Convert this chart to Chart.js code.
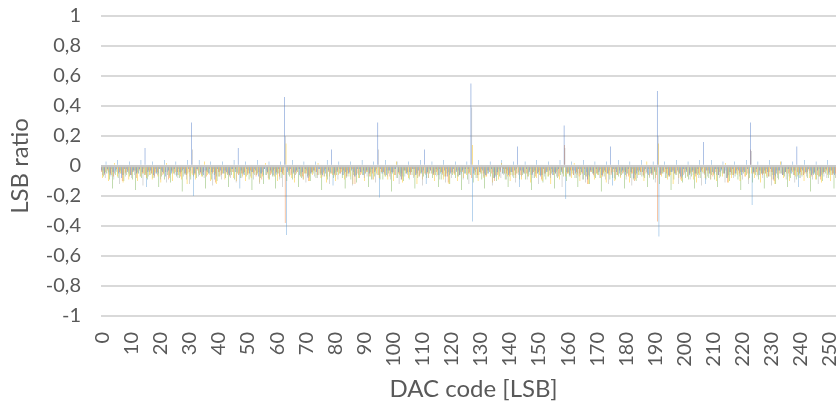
<!DOCTYPE html>
<html>
<head>
<meta charset="utf-8">
<script src="https://cdn.jsdelivr.net/npm/chart.js@4/dist/chart.umd.min.js"></script>
<style>
  html, body { margin: 0; padding: 0; background: #fff; overflow: hidden; }
  #wrap { position: absolute; left: 0; top: 0; width: 856px; height: 406px; }
</style>
</head>
<body>
<div id="wrap"><canvas id="dnl"></canvas></div>
<script>
// DAC codes 0..255
const codes = Array.from({ length: 256 }, (_, i) => String(i));

const yTicks = [-1, -0.8, -0.6, -0.4, -0.2, 0, 0.2, 0.4, 0.6, 0.8, 1];

// measured step error per code, one array per run
const run1 = [
  -0.03,-0.05,-0.02,-0.06,-0.04,-0.03,-0.05,-0.08,-0.02,-0.04,-0.06,-0.03,-0.05,-0.02,-0.04,0.12,
  -0.04,-0.03,-0.06,-0.05,-0.02,-0.04,-0.07,-0.03,-0.05,-0.02,-0.06,-0.04,-0.03,-0.05,-0.02,0.29,
  -0.05,-0.02,-0.04,-0.06,-0.03,-0.05,-0.04,-0.09,-0.02,-0.03,-0.05,-0.04,-0.06,-0.02,-0.04,0.12,
  -0.03,-0.06,-0.02,-0.05,-0.04,-0.03,-0.07,-0.05,-0.02,-0.04,-0.03,-0.06,-0.05,-0.02,-0.04,0.46,
  -0.04,-0.02,-0.05,-0.03,-0.06,-0.04,-0.02,-0.08,-0.05,-0.03,-0.04,-0.02,-0.06,-0.05,-0.03,0.11,
  -0.05,-0.03,-0.02,-0.06,-0.04,-0.05,-0.03,-0.07,-0.02,-0.04,-0.06,-0.03,-0.05,-0.02,-0.04,0.29,
  -0.02,-0.04,-0.06,-0.03,-0.05,-0.02,-0.04,-0.09,-0.03,-0.05,-0.04,-0.02,-0.06,-0.03,-0.05,0.11,
  -0.04,-0.03,-0.05,-0.02,-0.06,-0.04,-0.03,-0.07,-0.05,-0.02,-0.04,-0.06,-0.03,-0.05,-0.02,0.55,
  -0.05,-0.02,-0.04,-0.03,-0.06,-0.05,-0.02,-0.08,-0.04,-0.03,-0.05,-0.02,-0.06,-0.04,-0.03,0.13,
  -0.03,-0.05,-0.02,-0.04,-0.06,-0.03,-0.05,-0.07,-0.02,-0.04,-0.03,-0.06,-0.05,-0.02,-0.04,0.27,
  -0.04,-0.06,-0.03,-0.05,-0.02,-0.04,-0.06,-0.09,-0.03,-0.05,-0.02,-0.04,-0.06,-0.03,-0.05,0.13,
  -0.02,-0.04,-0.05,-0.03,-0.06,-0.02,-0.04,-0.08,-0.05,-0.03,-0.04,-0.02,-0.06,-0.05,-0.03,0.50,
  -0.05,-0.03,-0.02,-0.06,-0.04,-0.05,-0.03,-0.07,-0.02,-0.04,-0.06,-0.03,-0.05,-0.02,-0.04,0.16,
  -0.03,-0.05,-0.04,-0.02,-0.06,-0.03,-0.05,-0.08,-0.04,-0.02,-0.05,-0.03,-0.06,-0.04,-0.02,0.29,
  -0.04,-0.02,-0.06,-0.05,-0.03,-0.04,-0.02,-0.09,-0.05,-0.03,-0.06,-0.04,-0.02,-0.05,-0.03,0.13,
  -0.05,-0.03,-0.04,-0.02,-0.06,-0.05,-0.03,-0.07,-0.04,-0.02,-0.05,-0.03,-0.06,-0.04,-0.02,-0.03
];

const run2 = [
  -0.04,-0.06,-0.03,-0.05,-0.07,-0.02,-0.04,-0.10,-0.05,-0.03,-0.06,-0.04,-0.08,-0.03,-0.05,-0.06,
  -0.03,-0.05,-0.07,-0.04,-0.02,-0.06,-0.04,-0.09,-0.03,-0.05,-0.04,-0.07,-0.02,-0.06,-0.04,-0.05,
  -0.06,-0.03,-0.05,-0.04,-0.07,-0.02,-0.05,-0.11,-0.04,-0.06,-0.03,-0.05,-0.07,-0.04,-0.02,-0.06,
  -0.05,-0.04,-0.06,-0.03,-0.05,-0.07,-0.04,-0.09,-0.02,-0.05,-0.06,-0.03,-0.04,-0.07,-0.05,-0.38,
  -0.03,-0.06,-0.04,-0.05,-0.02,-0.07,-0.05,-0.10,-0.04,-0.03,-0.06,-0.05,-0.07,-0.02,-0.04,-0.05,
  -0.06,-0.04,-0.05,-0.03,-0.07,-0.04,-0.02,-0.12,-0.05,-0.06,-0.03,-0.04,-0.07,-0.05,-0.03,-0.06,
  -0.04,-0.05,-0.03,-0.07,-0.04,-0.06,-0.05,-0.09,-0.03,-0.04,-0.06,-0.02,-0.05,-0.07,-0.04,-0.05,
  -0.05,-0.03,-0.06,-0.04,-0.02,-0.05,-0.07,-0.11,-0.04,-0.05,-0.03,-0.06,-0.04,-0.02,-0.05,-0.08,
  -0.03,-0.06,-0.04,-0.05,-0.07,-0.03,-0.05,-0.10,-0.06,-0.04,-0.02,-0.05,-0.07,-0.04,-0.06,-0.05,
  -0.06,-0.04,-0.05,-0.03,-0.05,-0.07,-0.04,-0.09,-0.05,-0.03,-0.06,-0.04,-0.05,-0.07,-0.03,0.14,
  -0.05,-0.03,-0.06,-0.04,-0.07,-0.05,-0.02,-0.12,-0.04,-0.06,-0.05,-0.03,-0.07,-0.04,-0.05,-0.06,
  -0.04,-0.06,-0.03,-0.05,-0.04,-0.07,-0.05,-0.10,-0.03,-0.04,-0.06,-0.05,-0.02,-0.06,-0.04,-0.37,
  -0.06,-0.04,-0.05,-0.07,-0.03,-0.05,-0.04,-0.09,-0.06,-0.03,-0.05,-0.04,-0.07,-0.05,-0.03,-0.05,
  -0.03,-0.05,-0.07,-0.04,-0.06,-0.02,-0.05,-0.11,-0.04,-0.06,-0.03,-0.05,-0.04,-0.07,-0.05,0.11,
  -0.05,-0.04,-0.03,-0.06,-0.05,-0.07,-0.04,-0.10,-0.03,-0.05,-0.06,-0.04,-0.05,-0.03,-0.06,-0.04,
  -0.04,-0.06,-0.05,-0.03,-0.07,-0.04,-0.06,-0.09,-0.05,-0.03,-0.04,-0.06,-0.05,-0.07,-0.04,-0.05
];

const run3 = [
  -0.06,-0.08,-0.05,-0.07,-0.09,-0.04,-0.12,-0.06,-0.07,-0.05,-0.08,-0.06,-0.04,-0.07,-0.13,-0.05,
  -0.07,-0.05,-0.08,-0.06,-0.09,-0.05,-0.11,-0.07,-0.04,-0.06,-0.08,-0.05,-0.07,-0.09,-0.12,0.11,
  -0.05,-0.07,-0.06,-0.08,-0.04,-0.06,-0.13,-0.05,-0.07,-0.09,-0.05,-0.06,-0.08,-0.04,-0.11,-0.06,
  -0.08,-0.06,-0.05,-0.07,-0.09,-0.06,-0.12,-0.04,-0.06,-0.08,-0.05,-0.07,-0.06,-0.09,-0.14,0.20,
  -0.06,-0.05,-0.08,-0.04,-0.07,-0.09,-0.11,-0.06,-0.05,-0.07,-0.08,-0.06,-0.04,-0.07,-0.12,-0.05,
  -0.07,-0.09,-0.05,-0.06,-0.08,-0.05,-0.13,-0.07,-0.06,-0.04,-0.08,-0.07,-0.05,-0.09,-0.11,0.11,
  -0.05,-0.06,-0.07,-0.09,-0.04,-0.08,-0.12,-0.05,-0.07,-0.06,-0.05,-0.08,-0.06,-0.07,-0.13,-0.06,
  -0.08,-0.05,-0.06,-0.07,-0.09,-0.06,-0.11,-0.04,-0.08,-0.05,-0.07,-0.06,-0.09,-0.05,-0.12,0.39,
  -0.06,-0.08,-0.05,-0.07,-0.06,-0.04,-0.13,-0.07,-0.05,-0.08,-0.06,-0.09,-0.05,-0.07,-0.11,-0.06,
  -0.07,-0.05,-0.09,-0.06,-0.08,-0.05,-0.12,-0.06,-0.07,-0.04,-0.08,-0.06,-0.07,-0.05,-0.14,0.12,
  -0.05,-0.07,-0.06,-0.08,-0.05,-0.09,-0.11,-0.06,-0.04,-0.07,-0.05,-0.08,-0.06,-0.09,-0.12,-0.05,
  -0.08,-0.06,-0.07,-0.05,-0.09,-0.06,-0.13,-0.05,-0.08,-0.06,-0.07,-0.04,-0.08,-0.06,-0.11,0.20,
  -0.06,-0.05,-0.08,-0.07,-0.04,-0.06,-0.12,-0.08,-0.05,-0.07,-0.09,-0.06,-0.05,-0.08,-0.13,-0.06,
  -0.07,-0.09,-0.05,-0.06,-0.08,-0.05,-0.11,-0.07,-0.06,-0.08,-0.05,-0.07,-0.09,-0.04,-0.12,0.10,
  -0.05,-0.07,-0.06,-0.08,-0.05,-0.07,-0.13,-0.06,-0.08,-0.05,-0.06,-0.09,-0.07,-0.05,-0.11,-0.07,
  -0.08,-0.06,-0.07,-0.05,-0.09,-0.06,-0.12,-0.05,-0.07,-0.08,-0.06,-0.05,-0.08,-0.07,-0.13,-0.06
];

const run4 = [
  -0.08,-0.04,-0.10,-0.06,0.02,-0.07,-0.05,-0.11,-0.04,-0.09,-0.06,-0.03,-0.10,-0.07,-0.05,-0.08,
  -0.06,-0.09,-0.04,-0.07,-0.11,-0.05,0.02,-0.08,-0.10,-0.04,-0.06,-0.09,-0.05,-0.12,-0.07,-0.06,
  -0.09,-0.05,-0.07,0.03,-0.06,-0.10,-0.04,-0.12,-0.07,-0.05,-0.09,-0.06,-0.04,-0.08,-0.10,-0.05,
  -0.07,-0.10,-0.05,-0.08,-0.04,-0.06,-0.11,-0.07,0.02,-0.09,-0.05,-0.07,-0.10,-0.04,-0.06,0.15,
  -0.05,-0.08,-0.11,-0.04,-0.07,-0.09,-0.05,-0.10,-0.06,-0.04,0.02,-0.08,-0.05,-0.11,-0.07,-0.06,
  -0.10,-0.06,-0.04,-0.09,-0.05,-0.07,-0.12,-0.06,-0.08,-0.05,-0.10,-0.04,-0.07,-0.09,-0.05,-0.08,
  -0.04,-0.07,-0.09,-0.05,-0.10,0.03,-0.06,-0.11,-0.05,-0.08,-0.04,-0.07,-0.12,-0.06,-0.09,-0.05,
  -0.08,-0.05,-0.10,-0.06,-0.04,-0.09,-0.07,-0.12,-0.05,-0.06,-0.10,-0.04,-0.08,-0.06,-0.05,0.14,
  -0.06,-0.10,-0.05,-0.08,-0.07,-0.04,-0.11,-0.06,-0.09,0.02,-0.05,-0.07,-0.10,-0.06,-0.08,-0.04,
  -0.09,-0.05,-0.07,-0.11,-0.04,-0.08,-0.06,-0.10,-0.05,-0.07,-0.12,-0.06,-0.04,-0.09,-0.05,-0.07,
  -0.05,-0.08,0.02,-0.06,-0.10,-0.05,-0.07,-0.12,-0.04,-0.09,-0.06,-0.08,-0.05,-0.11,-0.06,-0.04,
  -0.10,-0.06,-0.08,-0.04,-0.07,-0.11,-0.05,-0.09,-0.06,-0.04,-0.10,0.03,-0.07,-0.05,-0.08,0.15,
  -0.07,-0.04,-0.09,-0.06,-0.12,-0.05,-0.08,-0.10,-0.04,-0.07,-0.05,-0.09,-0.11,-0.06,-0.04,-0.08,
  -0.05,-0.09,-0.06,-0.10,-0.04,-0.07,0.02,-0.11,-0.08,-0.05,-0.06,-0.10,-0.04,-0.07,-0.09,-0.05,
  -0.08,-0.06,-0.11,-0.05,-0.07,-0.04,-0.09,-0.12,-0.06,0.03,-0.08,-0.05,-0.10,-0.04,-0.07,-0.06,
  -0.06,-0.10,-0.04,-0.08,-0.05,-0.09,-0.07,-0.11,-0.04,-0.06,-0.10,-0.05,-0.08,-0.12,-0.06,-0.09
];

const run5 = [
  -0.03,0.03,-0.04,-0.02,-0.05,0.04,-0.03,-0.06,-0.02,0.03,-0.04,-0.03,-0.05,0.04,-0.02,-0.14,
  -0.04,0.03,-0.02,-0.05,-0.03,0.04,-0.04,-0.06,-0.03,0.03,-0.02,-0.04,-0.05,0.04,-0.03,-0.20,
  -0.02,0.04,-0.05,-0.03,-0.04,0.03,-0.02,-0.07,-0.04,0.03,-0.03,-0.05,-0.02,0.04,-0.04,-0.15,
  -0.05,0.03,-0.03,-0.04,-0.02,0.04,-0.05,-0.06,-0.03,0.03,-0.04,-0.02,-0.05,0.03,-0.03,-0.46,
  -0.03,0.04,-0.04,-0.02,-0.05,0.03,-0.03,-0.07,-0.04,0.03,-0.02,-0.05,-0.03,0.04,-0.04,-0.13,
  -0.04,0.03,-0.02,-0.05,-0.03,0.03,-0.04,-0.06,-0.02,0.04,-0.05,-0.03,-0.04,0.03,-0.02,-0.21,
  -0.05,0.04,-0.03,-0.04,-0.02,0.03,-0.05,-0.07,-0.03,0.03,-0.04,-0.02,-0.05,0.04,-0.03,-0.12,
  -0.02,0.03,-0.04,-0.03,-0.05,0.04,-0.02,-0.06,-0.04,0.03,-0.03,-0.05,-0.02,0.03,-0.04,-0.37,
  -0.04,0.04,-0.02,-0.05,-0.03,0.03,-0.04,-0.07,-0.02,0.04,-0.05,-0.03,-0.04,0.03,-0.02,-0.14,
  -0.03,0.03,-0.05,-0.02,-0.04,0.04,-0.03,-0.06,-0.05,0.03,-0.02,-0.04,-0.03,0.04,-0.05,-0.22,
  -0.04,0.03,-0.03,-0.05,-0.02,0.04,-0.04,-0.07,-0.03,0.03,-0.05,-0.02,-0.04,0.03,-0.03,-0.13,
  -0.02,0.04,-0.04,-0.03,-0.05,0.03,-0.02,-0.06,-0.04,0.04,-0.03,-0.05,-0.02,0.03,-0.04,-0.47,
  -0.05,0.03,-0.02,-0.04,-0.03,0.04,-0.05,-0.07,-0.02,0.03,-0.04,-0.03,-0.05,0.04,-0.02,-0.12,
  -0.03,0.04,-0.05,-0.02,-0.04,0.03,-0.03,-0.06,-0.05,0.03,-0.02,-0.04,-0.03,0.04,-0.05,-0.26,
  -0.04,0.03,-0.03,-0.05,-0.02,0.04,-0.04,-0.07,-0.03,0.03,-0.05,-0.02,-0.04,0.03,-0.03,-0.14,
  -0.02,0.04,-0.04,-0.03,-0.05,0.03,-0.02,-0.06,-0.04,0.04,-0.03,-0.05,-0.02,0.03,-0.04,-0.03
];

const run6 = [
  -0.07,-0.05,-0.09,-0.15,-0.06,-0.08,-0.05,-0.10,-0.06,-0.07,-0.09,-0.16,-0.05,-0.08,-0.06,-0.09,
  -0.06,-0.08,-0.05,-0.14,-0.07,-0.09,-0.06,-0.11,-0.05,-0.07,-0.08,-0.17,-0.06,-0.05,-0.09,-0.07,
  -0.08,-0.06,-0.07,-0.15,-0.05,-0.09,-0.06,-0.10,-0.07,-0.05,-0.08,-0.14,-0.06,-0.09,-0.05,-0.08,
  -0.05,-0.07,-0.09,-0.16,-0.06,-0.05,-0.08,-0.12,-0.06,-0.09,-0.07,-0.15,-0.05,-0.08,-0.06,-0.10,
  -0.07,-0.09,-0.06,-0.14,-0.08,-0.05,-0.07,-0.10,-0.05,-0.08,-0.06,-0.16,-0.07,-0.09,-0.05,-0.08,
  -0.06,-0.05,-0.08,-0.15,-0.07,-0.09,-0.06,-0.11,-0.08,-0.06,-0.05,-0.14,-0.09,-0.07,-0.06,-0.09,
  -0.09,-0.07,-0.05,-0.17,-0.06,-0.08,-0.07,-0.10,-0.05,-0.09,-0.06,-0.15,-0.08,-0.05,-0.07,-0.08,
  -0.05,-0.08,-0.06,-0.14,-0.09,-0.07,-0.05,-0.12,-0.06,-0.08,-0.07,-0.16,-0.05,-0.09,-0.06,-0.11,
  -0.08,-0.06,-0.09,-0.15,-0.05,-0.07,-0.08,-0.10,-0.07,-0.05,-0.09,-0.14,-0.06,-0.08,-0.05,-0.09,
  -0.06,-0.09,-0.07,-0.16,-0.08,-0.05,-0.06,-0.11,-0.09,-0.07,-0.05,-0.15,-0.08,-0.06,-0.07,-0.10,
  -0.07,-0.05,-0.08,-0.14,-0.06,-0.09,-0.07,-0.12,-0.05,-0.08,-0.06,-0.17,-0.07,-0.05,-0.09,-0.08,
  -0.09,-0.07,-0.06,-0.15,-0.05,-0.08,-0.09,-0.10,-0.06,-0.07,-0.08,-0.14,-0.05,-0.09,-0.06,-0.12,
  -0.05,-0.08,-0.07,-0.16,-0.09,-0.06,-0.05,-0.11,-0.08,-0.09,-0.07,-0.15,-0.06,-0.08,-0.05,-0.09,
  -0.08,-0.06,-0.09,-0.14,-0.07,-0.05,-0.08,-0.10,-0.06,-0.07,-0.09,-0.16,-0.05,-0.06,-0.08,-0.11,
  -0.06,-0.09,-0.05,-0.15,-0.08,-0.07,-0.06,-0.12,-0.09,-0.05,-0.07,-0.14,-0.08,-0.06,-0.09,-0.08,
  -0.07,-0.05,-0.08,-0.17,-0.06,-0.09,-0.07,-0.10,-0.05,-0.08,-0.06,-0.15,-0.09,-0.07,-0.05,-0.10
];

const runs = [run1, run2, run3, run4, run5, run6];
const colors = ['#4472C4', '#ED7D31', '#A5A5A5', '#FFC000', '#5B9BD5', '#70AD47'];

const textColor = '#595959';
const fontFamily = 'Lato, "Open Sans", sans-serif';

// 0,2 style decimals
const fmt = v => String(Math.round(v * 10) / 10).replace('.', ',');

const ctx = document.getElementById('dnl').getContext('2d');
new Chart(ctx, {
  type: 'bar',
  data: {
    labels: codes,
    datasets: runs.map((r, i) => ({
      label: 'Run ' + (i + 1),
      data: r,
      backgroundColor: colors[i],
      borderWidth: 0,
      categoryPercentage: 0.9,
      barPercentage: 1.0
    }))
  },
  options: {
    responsive: true,
    maintainAspectRatio: false,
    animation: false,
    layout: { padding: { top: 16, right: 10, bottom: 0, left: 0 } },
    plugins: {
      legend: { display: false },
      tooltip: { enabled: false }
    },
    scales: {
      x: {
        grid: { display: false, drawTicks: false },
        border: { display: false },
        ticks: {
          autoSkip: false,
          minRotation: 90,
          maxRotation: 90,
          padding: 16,
          color: textColor,
          font: { family: fontFamily, size: 20 },
          callback: (v, i) => (i % 10 === 0 ? codes[i] : null)
        },
        title: {
          display: true,
          text: 'DAC code [LSB]',
          color: textColor,
          font: { family: fontFamily, size: 24 },
          padding: { top: 0, bottom: 2 }
        },
        afterFit: s => { s.height = 90; s.paddingLeft = 0; s.paddingRight = 0; }
      },
      y: {
        min: yTicks[0],
        max: yTicks[yTicks.length - 1],
        afterBuildTicks: s => { s.ticks = yTicks.map(v => ({ value: v })); },
        grid: {
          drawTicks: false,
          color: c => (c.tick && c.tick.value === 0 ? '#c9c9c9' : '#d9d9d9'),
          lineWidth: c => (c.tick && c.tick.value === 0 ? 2.5 : 2)
        },
        border: { display: false },
        ticks: {
          padding: 20,
          color: textColor,
          font: { family: fontFamily, size: 20 },
          callback: v => fmt(v)
        },
        title: {
          display: true,
          text: 'LSB ratio',
          color: textColor,
          font: { family: fontFamily, size: 24 },
          padding: { top: 6, bottom: 0 }
        },
        afterFit: s => { s.width = 101; s.paddingTop = 0; s.paddingBottom = 0; }
      }
    }
  }
});
</script>
</body>
</html>
